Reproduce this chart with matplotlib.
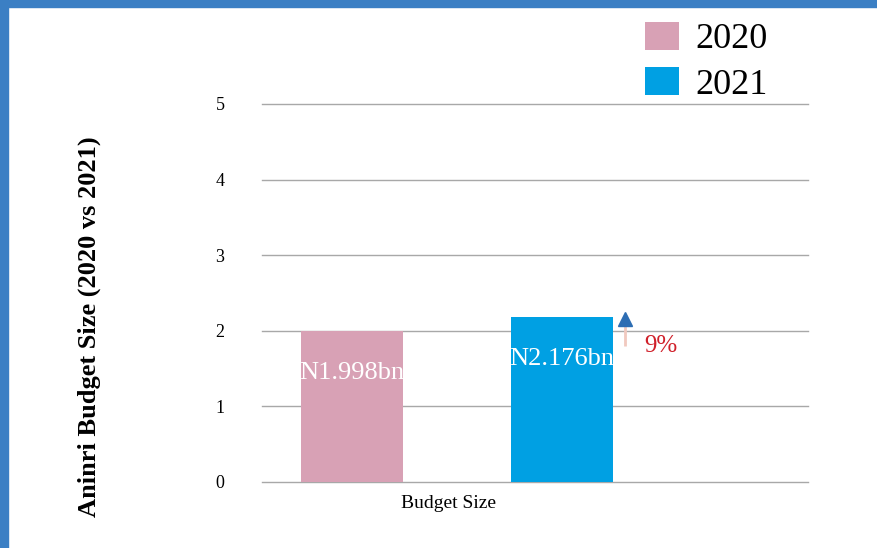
import matplotlib.pyplot as plt
from matplotlib.patches import Rectangle

plt.rcParams['font.family'] = ['Liberation Serif', 'DejaVu Serif']

years = ['2020', '2021']
budget = [1.998, 2.176]
bar_text = ['N1.998bn', 'N2.176bn']
colors = ['#d8a1b5', '#00a0e3']
growth = '9%'
yticks = [0, 1, 2, 3, 4, 5]

fig = plt.figure(figsize=(8.77, 5.48), dpi=100)

# slide border (blue bands top and left)
fig.patches.append(Rectangle((0, 1 - 7/548), 1, 7/548, transform=fig.transFigure,
                             color='#3b7fc4', zorder=0))
fig.patches.append(Rectangle((0, 0), 8/877, 1, transform=fig.transFigure,
                             color='#3b7fc4', zorder=0))

ax = fig.add_axes([262/877, 66/548, 546/877, 378/548])

xpos = [-0.5, 0.5]
for x, v, c, y, t in zip(xpos, budget, colors, years, bar_text):
    ax.bar(x, v, width=0.486, color=c, label=y, zorder=2)
    ax.text(x, v - 0.55, t, color='white', fontsize=19, ha='center', va='center', zorder=3)

# growth arrow
ax.plot([0.8, 0.8], [1.8, 2.1], color='#f1c9bf', lw=2, zorder=3, solid_capstyle='butt')
ax.plot(0.8, 2.16, marker='^', color='#2d6db3', markersize=10, zorder=4)
ax.text(0.89, 1.8, growth, color='#d0202a', fontsize=18, va='center', ha='left')

ax.set_xlim(-0.929, 1.671)
ax.set_ylim(0, 5)
ax.set_yticks(yticks)
ax.set_yticklabels([str(t) for t in yticks], fontsize=13)
ax.tick_params(axis='y', length=0, pad=27)
ax.set_xticks([-0.04])
ax.set_xticklabels(['Budget Size'], fontsize=14)
ax.tick_params(axis='x', length=0, pad=9)
ax.grid(axis='y', color='#a8a8a8', lw=1, zorder=1)
for gl in ax.get_ygridlines():
    gl.set_clip_on(False)
ax.set_axisbelow(True)
for s in ax.spines.values():
    s.set_visible(False)

fig.text(89/877, 1 - 327/548, 'Aninri Budget Size (2020 vs 2021)', fontsize=19,
         fontweight='bold', rotation=90, ha='center', va='center')

fig.legend(loc='upper left', bbox_to_anchor=(645/877, 1 - 22/548), fontsize=26,
           frameon=False, handlelength=0.95, handleheight=0.8, labelspacing=0.3,
           handletextpad=0.45, borderpad=0, borderaxespad=0)

fig.savefig('out.png', dpi=100)
